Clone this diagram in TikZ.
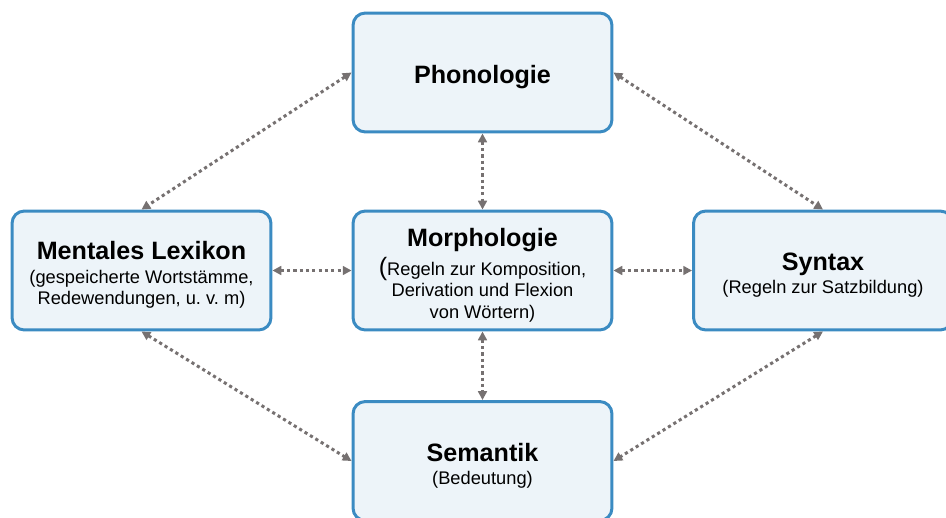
\documentclass[tikz,border=0pt]{standalone}
\usepackage{fontspec}
\setmainfont{Liberation Sans}
\usepackage{xcolor}
\usepackage{tikz}
\usetikzlibrary{arrows.meta, positioning}
\definecolor{lingblue}{HTML}{3B8BC2}
\definecolor{lingfill}{HTML}{EDF4F9}
\definecolor{linkgray}{HTML}{767171}

\frenchspacing
\newcommand{\boxtitle}[1]{{\fontsize{14.3}{14.3}\selectfont\bfseries\rule{0pt}{15.5pt}#1}}

\tikzset{
  levelbox/.style={draw=lingblue, fill=lingfill, line width=1.7pt, rounded corners=7pt,
    minimum width=5.18cm, minimum height=2.38cm, align=center,
    font=\fontsize{10.4}{12.2}\selectfont},
  linkline/.style={draw=linkgray, line width=1.7pt, dash pattern=on 1.8pt off 1.8pt,
    {Triangle[length=5pt,width=5pt]}-{Triangle[length=5pt,width=5pt]}}
}

\begin{document}
\begin{tikzpicture}[x=0.02cm, y=-0.02cm]
  \useasboundingbox (0,0) rectangle (946,517);

  % sprachliche Ebenen
  \node[levelbox] (phon) at (482.5,72.5) {\boxtitle{Phonologie}};
  \node[levelbox] (lex) at (141.5,270.5) {\boxtitle{Mentales Lexikon}\\[1pt]
    (gespeicherte Wortstämme,\\Redewendungen, u. v. m)};
  \node[levelbox] (morph) at (482.5,270.5) {\boxtitle{Morphologie}\\[2pt]
    {\fontsize{14.3}{14.3}\selectfont(}Regeln zur Komposition,\\Derivation und Flexion\\von Wörtern)};
  \node[levelbox] (syn) at (823,270.5) {\boxtitle{Syntax}\\[1pt](Regeln zur Satzbildung)};
  \node[levelbox] (sem) at (482.5,461) {\boxtitle{Semantik}\\[1pt](Bedeutung)};

  % Verbindungen
  \draw[linkline] (phon.west) -- (lex.north);
  \draw[linkline] (phon.east) -- (syn.north);
  \draw[linkline] (phon.south) -- (morph.north);
  \draw[linkline] (lex.east) -- (morph.west);
  \draw[linkline] (morph.east) -- (syn.west);
  \draw[linkline] (morph.south) -- (sem.north);
  \draw[linkline] (lex.south) -- (sem.west);
  \draw[linkline] (syn.south) -- (sem.east);
\end{tikzpicture}
\end{document}
